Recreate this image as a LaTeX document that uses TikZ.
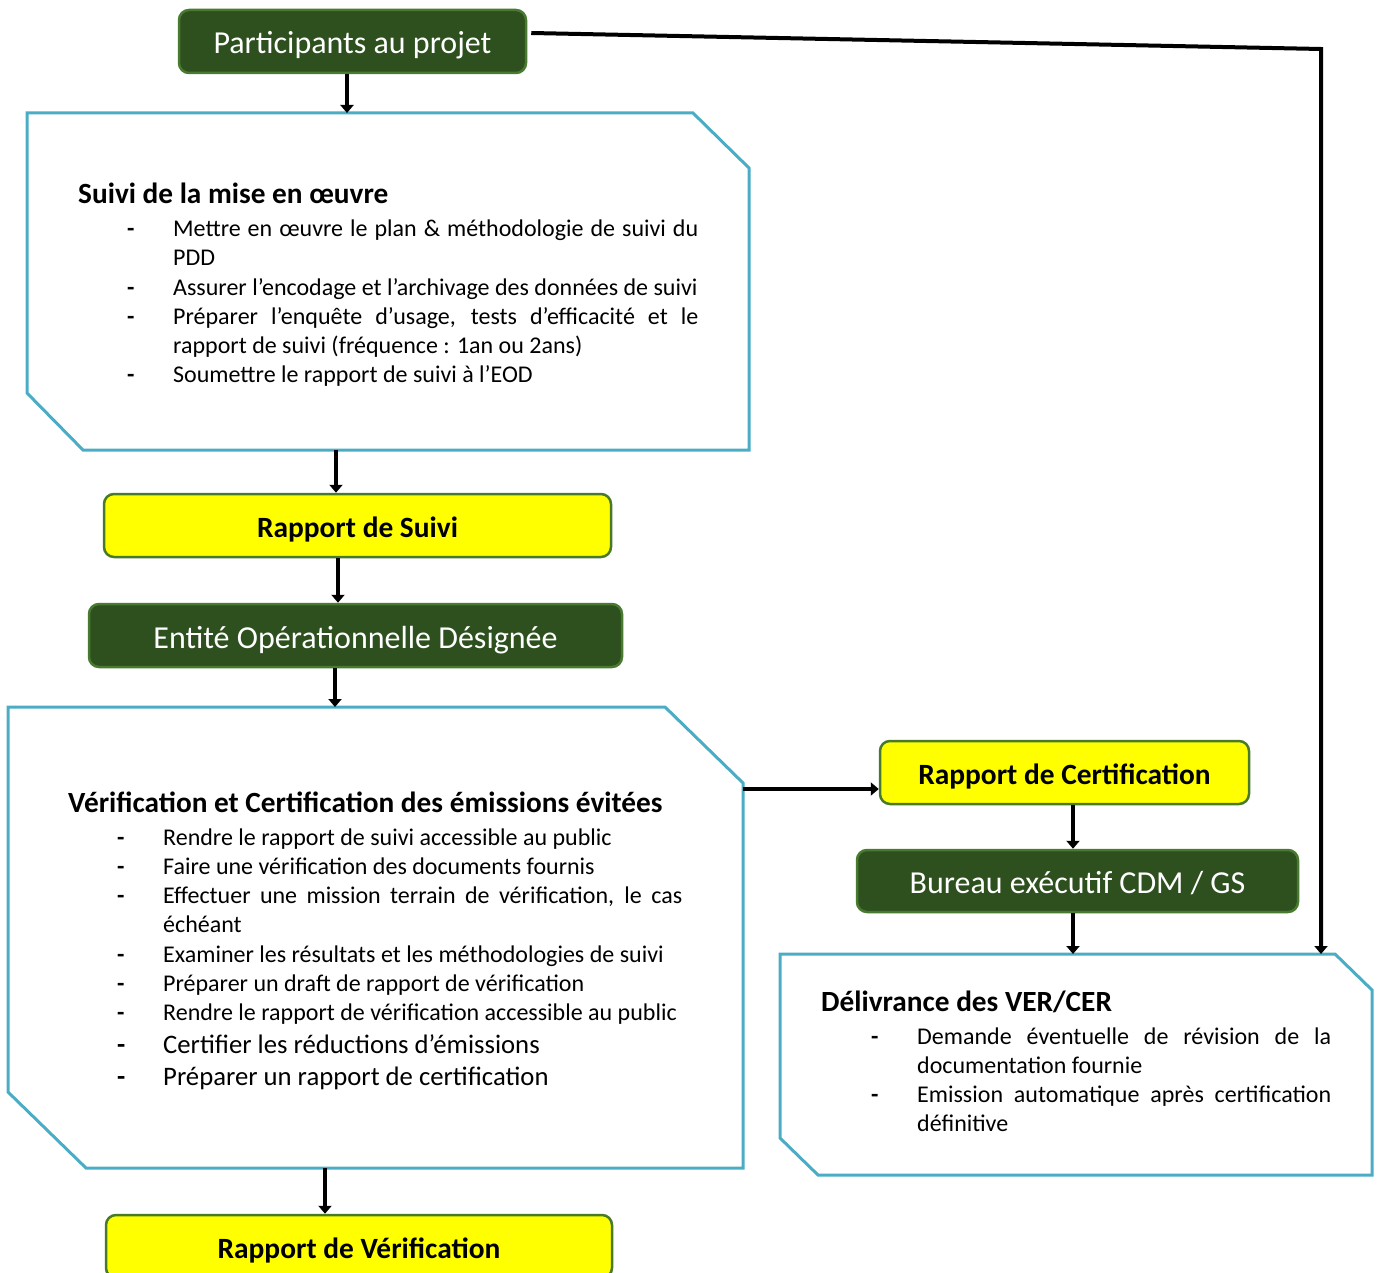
\documentclass[tikz,border=0pt]{standalone}
\usepackage{fontspec}
\setmainfont{Carlito}
\usetikzlibrary{arrows.meta,calc}
\definecolor{gfill}{RGB}{45,80,30}
\definecolor{gline}{RGB}{72,122,48}
\definecolor{yline}{RGB}{72,122,40}
\definecolor{yfill}{RGB}{255,255,0}
\definecolor{tealb}{RGB}{75,172,198}
\newcommand{\dsh}{\makebox[46pt][l]{\textbf{-}}}
\newcommand{\itm}[1]{\hbox{\dsh#1}}
\newcommand{\itj}[2]{\hbox{\dsh\hbox to #1{#2}}}
\newcommand{\cnt}[1]{\hbox{\hspace*{46pt}#1}}
\begin{document}
\begin{tikzpicture}[x=1pt,y=-1pt,
  gbox/.style={draw=gline, fill=gfill, line width=2.5pt, rounded corners=10pt, text=white,
    font=\fontsize{32}{38}\selectfont, inner sep=0pt, text height=25pt, text depth=0pt},
  ybox/.style={draw=yline, fill=yfill, line width=2.5pt, rounded corners=10pt,
    font=\bfseries\fontsize{29.4}{34}\selectfont, inner sep=0pt, text height=23pt, text depth=0pt},
  framebox/.style={inner sep=0pt, outer sep=0pt},
  frameline/.style={draw=tealb, line width=3pt},
  arr/.style={line width=4pt, -{Triangle[width=13pt,length=8pt]}},
  head/.style={anchor=base west, inner sep=0pt, font=\bfseries\fontsize{29.3}{35}\selectfont},
  body/.style={anchor=base west, inner sep=0pt, font=\fontsize{24}{29.3}\selectfont}]
\useasboundingbox (0,0) rectangle (1378,1273);

% nodes
\node[gbox, minimum width=347pt, minimum height=63pt] (pp) at (352.5,41.5) {Participants au projet};
\node[framebox, minimum width=722pt, minimum height=337pt] (suivi) at (388,281.5) {};
\node[ybox, minimum width=507pt, minimum height=63pt] (rs) at (357.5,525.5) {Rapport de Suivi};
\node[gbox, minimum width=533pt, minimum height=63pt] (eod) at (355.5,635.5) {Entité Opérationnelle Désignée};
\node[framebox, minimum width=735pt, minimum height=461pt] (verif) at (375.5,937.5) {};
\node[ybox, minimum width=506pt, minimum height=63pt] (rv) at (359,1246.5) {Rapport de Vérification};
\node[ybox, minimum width=369pt, minimum height=63pt] (rc) at (1064.5,772.5) {Rapport de Certification};
\node[gbox, minimum width=441pt, minimum height=62pt] (bur) at (1077.5,881) {Bureau exécutif CDM / GS};
\node[framebox, minimum width=592pt, minimum height=221pt] (deliv) at (1076,1064.5) {};

% octagon frames
\draw[frameline] (suivi.north west) -- ($(suivi.north east)+(-56,0)$) -- ($(suivi.north east)+(0,55)$)
  -- (suivi.south east) -- ($(suivi.south west)+(56,0)$) -- ($(suivi.south west)+(0,-57)$) -- cycle;
\draw[frameline] (verif.north west) -- ($(verif.north east)+(-78,0)$) -- ($(verif.north east)+(0,76)$)
  -- (verif.south east) -- ($(verif.south west)+(78,0)$) -- ($(verif.south west)+(0,-76)$) -- cycle;
\draw[frameline] (deliv.north west) -- ($(deliv.north east)+(-37,0)$) -- ($(deliv.north east)+(0,36)$)
  -- (deliv.south east) -- ($(deliv.south west)+(38,0)$) -- ($(deliv.south west)+(0,-37)$) -- cycle;

% texts
\node[head] (h1) at (78,204) {Suivi de la mise en œuvre};
\node[body] (l1) at (127,236.5) {\vtop{%
  \itj{525pt}{Mettre en œuvre le plan \& méthodologie de suivi du}%
  \cnt{PDD}%
  \itm{Assurer l’encodage et l’archivage des données de suivi}%
  \itj{525pt}{Préparer l’enquête d’usage, tests d’efficacité et le}%
  \cnt{rapport de suivi (fréquence : 1an ou 2ans)}%
  \itm{Soumettre le rapport de suivi à l’EOD}}};

\node[head] (h2) at (68,812.5) {Vérification et Certification des émissions évitées};
\node[body] (l2) at (117,845) {\vtop{%
  \itm{Rendre le rapport de suivi accessible au public}%
  \itm{Faire une vérification des documents fournis}%
  \itj{519pt}{Effectuer une mission terrain de vérification, le cas}%
  \cnt{échéant}%
  \itm{Examiner les résultats et les méthodologies de suivi}%
  \itm{Préparer un draft de rapport de vérification}%
  \itm{Rendre le rapport de vérification accessible au public}%
  {\fontsize{26.7}{32.5}\selectfont
  \itm{Certifier les réductions d’émissions}%
  \itm{Préparer un rapport de certification}}}};

\node[head] (h3) at (821,1011.5) {Délivrance des VER/CER};
\node[body] (l3) at (871,1044) {\vtop{%
  \itj{414pt}{Demande éventuelle de révision de la}%
  \cnt{documentation fournie}%
  \itj{414pt}{Emission automatique après certification}%
  \cnt{définitive}}};

% connectors
\draw[arr] ([xshift=-5.5pt]pp.south) -- ([xshift=-5.5pt]pp.south |- suivi.north);
\draw[arr] ([xshift=-21.5pt]rs.north |- suivi.south) -- ([xshift=-21.5pt]rs.north);
\draw[arr] ([xshift=-19.5pt]rs.south) -- ([xshift=-19.5pt]rs.south |- eod.north);
\draw[arr] ([xshift=-20.5pt]eod.south) -- ([xshift=-20.5pt]eod.south |- verif.north);
\coordinate (rcin) at ([yshift=-16.5pt]rc.west);
\draw[arr] (verif.east |- rcin) -- (rcin);
\draw[arr] ([xshift=8.5pt]rc.south) -- ([xshift=8.5pt]rc.south |- bur.north);
\draw[arr] ([xshift=-4.5pt]bur.south) -- ([xshift=-4.5pt]bur.south |- deliv.north);
\draw[arr] ([xshift=-34pt]rv.north |- verif.south) -- ([xshift=-34pt]rv.north);
\coordinate (turn) at (1321,49);
\draw[arr] ([xshift=4pt,yshift=8.5pt]pp.east) -- (turn) -- (turn |- deliv.north);
\end{tikzpicture}
\end{document}
